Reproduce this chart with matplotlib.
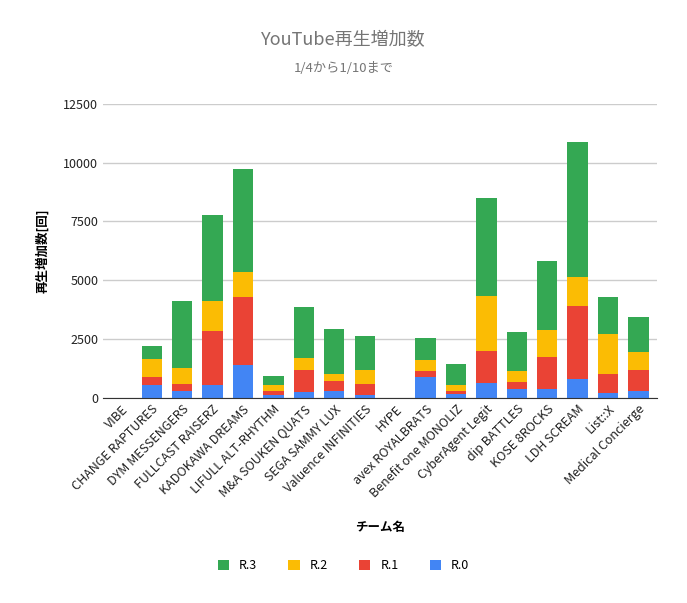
import matplotlib.pyplot as plt
import numpy as np
plt.rcParams['font.family'] = ['Noto Sans CJK JP', 'DejaVu Sans']

teams = ["VIBE", "CHANGE RAPTURES", "DYM MESSENGERS", "FULLCAST RAISERZ", "KADOKAWA DREAMS",
         "LIFULL ALT-RHYTHM", "M&A SOUKEN QUATS", "SEGA SAMMY LUX", "Valuence INFINITIES", "HYPE",
         "avex ROYALBRATS", "Benefit one MONOLIZ", "CyberAgent Legit", "dip BATTLES", "KOSE 8ROCKS",
         "LDH SCREAM", "List::X", "Medical Concierge"]
r0 = [0, 565, 311, 565, 1398, 141, 268, 311, 141, 0, 875, 184, 650, 395, 367, 819, 226, 282]
r1 = [0, 339, 296, 2287, 2894, 170, 932, 423, 466, 0, 283, 127, 1355, 297, 1384, 3092, 805, 918]
r2 = [0, 762, 678, 1271, 1059, 254, 509, 297, 593, 0, 466, 254, 2330, 466, 1144, 1229, 1694, 763]
r3 = [0, 551, 2838, 3643, 4364, 381, 2160, 1906, 1440, 0, 932, 889, 4151, 1652, 2922, 5718, 1567, 1482]

fig = plt.figure(figsize=(6.87, 6.03), dpi=100)
ax = fig.add_axes([0.15, 0.34, 0.806, 0.488])
x = np.arange(len(teams))
w = 0.67
cols = ['#4285F4', '#EA4335', '#FBBC04', '#34A853']
names = ['R.0', 'R.1', 'R.2', 'R.3']
bottom = np.zeros(len(teams))
handles = []
for vals, c, n in zip([r0, r1, r2, r3], cols, names):
    h = ax.bar(x, vals, w, bottom=bottom, color=c, label=n)
    handles.append(h)
    bottom += np.array(vals)
ax.set_ylim(0, 12500)
ax.set_yticks([0, 2500, 5000, 7500, 10000, 12500])
ax.set_xlim(-0.6, len(teams) - 0.4)
ax.grid(axis='y', color='#cccccc', linewidth=1)
ax.set_axisbelow(True)
for s in ['top', 'right', 'left']:
    ax.spines[s].set_visible(False)
ax.spines['bottom'].set_color('#333333')
ax.tick_params(axis='both', length=0, labelsize=9, colors='#222222')
ax.set_xticks(x)
ax.set_xticklabels(teams, rotation=45, ha='right', rotation_mode='anchor')
ax.set_ylabel('再生増加数[回]', fontsize=9, fontweight='bold', labelpad=10)
fig.text(0.553, 0.119, 'チーム名', ha='center', fontsize=9, fontweight='bold')
fig.text(0.5, 0.925, 'YouTube再生増加数', ha='center', fontsize=13, color='#757575')
fig.text(0.5, 0.88, '1/4から1/10まで', ha='center', fontsize=9.5, color='#757575')
fig.legend(handles[::-1], names[::-1], loc='center', bbox_to_anchor=(0.5, 0.062), ncol=4,
           frameon=False, fontsize=9, handlelength=0.9, handleheight=0.9, columnspacing=2.5)
fig.savefig('out.png', dpi=100)
